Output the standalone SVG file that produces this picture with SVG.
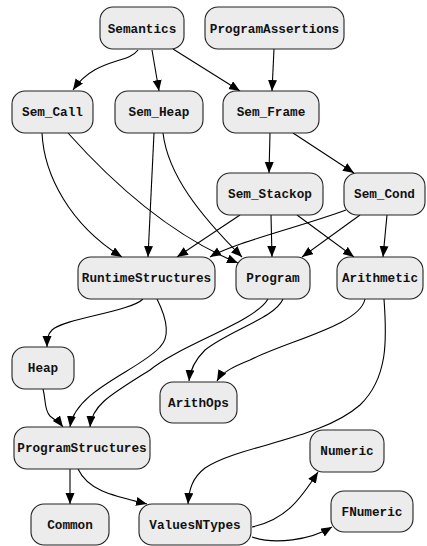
<svg xmlns="http://www.w3.org/2000/svg" width="427" height="546" viewBox="0 0 427 546">
<style>
.n rect{fill:#ececec;stroke:#222;stroke-width:1.1}
.n text{font-family:"Liberation Mono","DejaVu Sans Mono",monospace;font-weight:bold;font-size:12.7px;text-anchor:middle;fill:#111}
.e path{fill:none;stroke:#000;stroke-width:1.1;marker-end:url(#ah)}
</style>
<defs>
<marker id="ah" markerUnits="userSpaceOnUse" markerWidth="12" markerHeight="10" refX="11" refY="4.5" orient="auto">
<path d="M0,0 L11,4.5 L0,9 z" fill="#000"/>
</marker>
</defs>
<rect width="427" height="546" fill="#fff"/>
<g id="connectors" class="e">
<path d="M138,50 C128,64 95,58 73,90"/>
<path d="M152,50 L159,91"/>
<path d="M173,49 L240,91"/>
<path d="M274,49 L272,91"/>
<path d="M270,133 L269,173"/>
<path d="M293,133 L354,173"/>
<path d="M42,133 C44,175 70,225 122,257"/>
<path d="M68,133 C110,180 170,235 238,263"/>
<path d="M154,133 L148,257"/>
<path d="M163,133 C168,175 200,215 242,257"/>
<path d="M240,215 L177,257"/>
<path d="M271,215 L272,257"/>
<path d="M297,215 L354,257"/>
<path d="M346,210 C300,227 233,243 210,257"/>
<path d="M360,215 L302,257"/>
<path d="M387,215 L383,257"/>
<path d="M143,299 C130,312 65,318 52,330 C47,335 47,340 47,347"/>
<path d="M157,299 C165,315 172,335 160,347 C140,370 75,390 70,427"/>
<path d="M268,299 C255,322 180,345 150,370 C110,395 92,405 90,427"/>
<path d="M283,299 C275,318 230,330 205,350 C195,360 190,370 189,381"/>
<path d="M365,299 C360,325 290,340 250,360 C235,366 222,372 217,381"/>
<path d="M384,299 C387,340 388,378 360,405 C320,440 240,445 205,468 C192,478 189,490 188,504"/>
<path d="M43,389 C46,400 44,410 50,416 C55,420 60,423 63,427"/>
<path d="M70,469 L70,504"/>
<path d="M78,469 C88,490 110,495 147,504"/>
<path d="M252,527 C285,520 300,500 318,472"/>
<path d="M252,537 C275,545 310,540 332,527"/>
</g>
<g id="Semantics" class="n"><rect x="100" y="7" width="84" height="42" rx="13"/><text x="142" y="33">Semantics</text></g>
<g id="ProgramAssertions" class="n"><rect x="205" y="7" width="139" height="42" rx="13"/><text x="274.5" y="33">ProgramAssertions</text></g>
<g id="Sem_Call" class="n"><rect x="12" y="91" width="81" height="42" rx="13"/><text x="52.5" y="116">Sem_Call</text></g>
<g id="Sem_Heap" class="n"><rect x="115" y="91" width="88" height="42" rx="13"/><text x="159" y="116">Sem_Heap</text></g>
<g id="Sem_Frame" class="n"><rect x="223" y="91" width="96" height="42" rx="13"/><text x="271" y="116">Sem_Frame</text></g>
<g id="Sem_Stackop" class="n"><rect x="217" y="173" width="106" height="42" rx="13"/><text x="270" y="198">Sem_Stackop</text></g>
<g id="Sem_Cond" class="n"><rect x="344" y="173" width="81" height="42" rx="13"/><text x="384.5" y="198">Sem_Cond</text></g>
<g id="RuntimeStructures" class="n"><rect x="78" y="257" width="137" height="42" rx="13"/><text x="146.5" y="282">RuntimeStructures</text></g>
<g id="Program" class="n"><rect x="236" y="257" width="74" height="42" rx="13"/><text x="273" y="282">Program</text></g>
<g id="Arithmetic" class="n"><rect x="337" y="257" width="86" height="42" rx="13"/><text x="380" y="282">Arithmetic</text></g>
<g id="Heap" class="n"><rect x="12" y="347" width="62" height="42" rx="13"/><text x="43" y="372">Heap</text></g>
<g id="ArithOps" class="n"><rect x="160" y="382" width="77" height="41" rx="13"/><text x="198.5" y="407">ArithOps</text></g>
<g id="ProgramStructures" class="n"><rect x="14" y="427" width="136" height="42" rx="13"/><text x="82" y="452">ProgramStructures</text></g>
<g id="Numeric" class="n"><rect x="310" y="430" width="74" height="42" rx="13"/><text x="347" y="455">Numeric</text></g>
<g id="FNumeric" class="n"><rect x="331" y="491" width="82" height="41" rx="13"/><text x="372" y="516">FNumeric</text></g>
<g id="Common" class="n"><rect x="31" y="504" width="78" height="41" rx="13"/><text x="70" y="529">Common</text></g>
<g id="ValuesNTypes" class="n"><rect x="139" y="504" width="112" height="41" rx="13"/><text x="195" y="529">ValuesNTypes</text></g>
</svg>
